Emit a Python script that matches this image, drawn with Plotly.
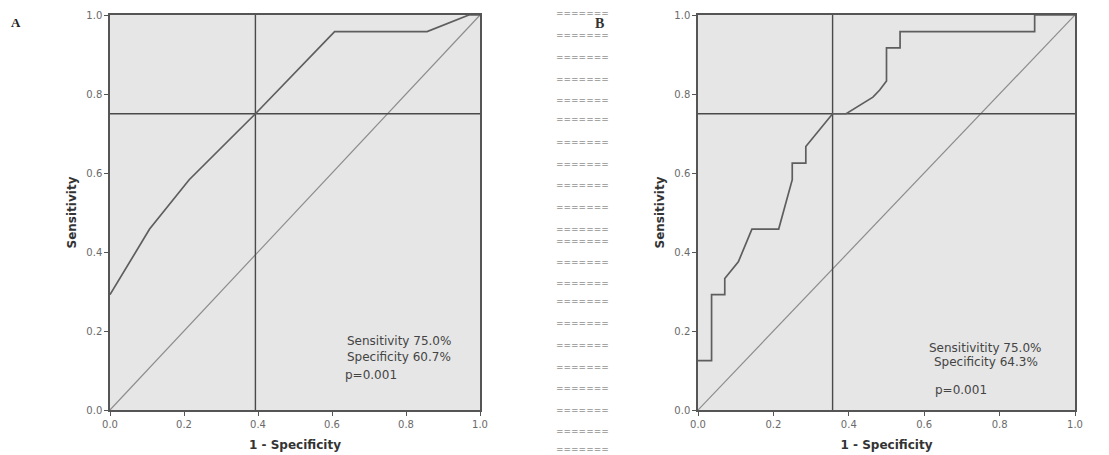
import plotly.graph_objects as go

# ---- data ----
# Panel A ROC curve (1 - specificity, sensitivity)
a_fpr = [0.0, 0.107, 0.214, 0.393, 0.607, 0.857, 0.97, 1.0]
a_tpr = [0.292, 0.458, 0.583, 0.75, 0.958, 0.958, 1.0, 1.0]
a_cut_fpr = 0.393
a_cut_tpr = 0.75

# Panel B ROC curve
b_fpr = [0.0, 0.036, 0.036, 0.071, 0.071, 0.107, 0.143, 0.214, 0.25, 0.25, 0.286, 0.286,
         0.357, 0.393, 0.464, 0.482, 0.5, 0.5, 0.536, 0.536, 0.893, 0.893, 1.0]
b_tpr = [0.125, 0.125, 0.292, 0.292, 0.333, 0.375, 0.458, 0.458, 0.583, 0.625, 0.625, 0.667,
         0.75, 0.75, 0.792, 0.81, 0.833, 0.917, 0.917, 0.958, 0.958, 1.0, 1.0]
b_cut_fpr = 0.357
b_cut_tpr = 0.75

diag = [0.0, 1.0]
tick_vals = [0.0, 0.2, 0.4, 0.6, 0.8, 1.0]
tick_text = ["0.0", "0.2", "0.4", "0.6", "0.8", "1.0"]

a_texts = ["Sensitivity 75.0%", "Specificity 60.7%", "p=0.001"]
b_texts = ["Sensitivitity 75.0%", "Specificity 64.3%", "p=0.001"]

# ---- figure ----
# page body has an 8px margin, so the figure is sized to the visible area
OFF = 8
W, H = 1109 - OFF, 455 - OFF
fig = go.Figure()

curve_col = "#5e5e5e"
ref_col = "#4a4a4a"
diag_col = "#8c8c8c"

def add_panel(fpr, tpr, cx, cy, xa, ya):
    fig.add_trace(go.Scatter(x=diag, y=diag, mode="lines", line=dict(color=diag_col, width=1.2),
                             xaxis=xa, yaxis=ya, showlegend=False, hoverinfo="skip"))
    fig.add_trace(go.Scatter(x=[0.0, 1.0], y=[cy, cy], mode="lines", line=dict(color=ref_col, width=1.4),
                             xaxis=xa, yaxis=ya, showlegend=False, hoverinfo="skip"))
    fig.add_trace(go.Scatter(x=[cx, cx], y=[0.0, 1.0], mode="lines", line=dict(color=ref_col, width=1.4),
                             xaxis=xa, yaxis=ya, showlegend=False, hoverinfo="skip"))
    fig.add_trace(go.Scatter(x=fpr, y=tpr, mode="lines", line=dict(color=curve_col, width=1.7),
                             xaxis=xa, yaxis=ya, showlegend=False))

add_panel(a_fpr, a_tpr, a_cut_fpr, a_cut_tpr, "x", "y")
add_panel(b_fpr, b_tpr, b_cut_fpr, b_cut_tpr, "x2", "y2")

def px(v):
    return (v - OFF) / W

def py(v):
    return 1 - (v - OFF) / H

ydom = [py(410), py(15)]
axis_common = dict(range=[0, 1], tickvals=tick_vals, ticktext=tick_text, showgrid=False, zeroline=False,
                   showline=True, mirror=True, linecolor="#555555", linewidth=1.5, automargin=False,
                   ticks="outside", ticklen=4, tickcolor="#555555", tickwidth=1.2,
                   tickfont=dict(family="DejaVu Sans", size=10, color="#6a6a6a"))
title_font = dict(family="DejaVu Sans", size=12, color="#333333")

fig.update_layout(
    width=W, height=H, margin=dict(l=0, r=0, t=0, b=0),
    paper_bgcolor="white", plot_bgcolor="#e6e6e6",
    xaxis=dict(domain=[px(110), px(480)], anchor="y", **axis_common,
               title=dict(text="<b>1 - Specificity</b>", font=title_font, standoff=12)),
    yaxis=dict(domain=ydom, anchor="x", **axis_common,
               title=dict(text="<b>Sensitivity</b>", font=title_font, standoff=7)),
    xaxis2=dict(domain=[px(698), px(1075)], anchor="y2", **axis_common,
                title=dict(text="<b>1 - Specificity</b>", font=title_font, standoff=12)),
    yaxis2=dict(domain=ydom, anchor="x2", **axis_common,
                title=dict(text="<b>Sensitivity</b>", font=title_font, standoff=7)),
)

ann_font = dict(family="DejaVu Sans", size=12, color="#444444")
a_pos = [(0.635, 0.175), (0.635, 0.134), (0.63, 0.089)]
b_pos = [(0.607, 0.157), (0.621, 0.122), (0.623, 0.051)]
for t, (ax_, ay_) in zip(a_texts, a_pos):
    fig.add_annotation(x=ax_, y=ay_, xref="x", yref="y", text=t, showarrow=False,
                       xanchor="left", yanchor="middle", font=ann_font)
for t, (ax_, ay_) in zip(b_texts, b_pos):
    fig.add_annotation(x=ax_, y=ay_, xref="x2", yref="y2", text=t, showarrow=False,
                       xanchor="left", yanchor="middle", font=ann_font)

# panel labels
fig.add_annotation(x=px(16), y=py(22), xref="paper", yref="paper", text="<b>A</b>", showarrow=False,
                   xanchor="center", yanchor="middle",
                   font=dict(family="Liberation Serif", size=13, color="#222222"))
fig.add_annotation(x=px(600), y=py(24), xref="paper", yref="paper", text="<b>B</b>", showarrow=False,
                   xanchor="center", yanchor="middle",
                   font=dict(family="Liberation Serif", size=14, color="#333333"))

# middle column of garbled separator text
sep_rows = [13, 35, 57, 79, 100, 119, 142, 164, 185, 207, 229, 241, 262, 283, 301, 323, 345, 367, 388, 410, 431, 449]
for ry in sep_rows:
    fig.add_annotation(x=px(582), y=py(ry), xref="paper", yref="paper", text="=======",
                       xanchor="center", yanchor="middle",
                       showarrow=False, font=dict(family="DejaVu Sans", size=9, color="#5e5e5e"))

fig.write_html("out.html")
